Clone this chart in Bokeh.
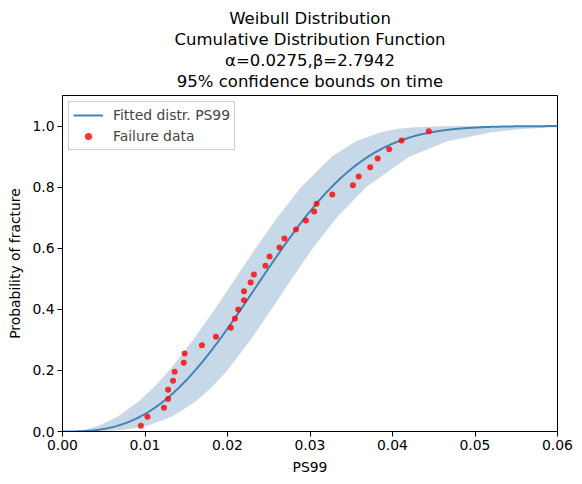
import numpy as np
from bokeh.plotting import figure
from bokeh.models import (Title, FixedTicker, PrintfTickFormatter, Range1d,
                          Legend, LegendItem)
from bokeh.embed import file_html
from bokeh.resources import INLINE

# Fitted Weibull parameters (scale, shape)
alpha = 0.0275
beta = 2.7942

# Failure data: PS99 value and median-rank probability
fail_x = [0.0095, 0.0103, 0.0123, 0.0128, 0.0128, 0.0134, 0.0136, 0.0147,
          0.0148, 0.0169, 0.0186, 0.0204, 0.0209, 0.0213, 0.0220, 0.0220,
          0.0228, 0.0232, 0.0246, 0.0251, 0.0263, 0.0269, 0.0283, 0.0295,
          0.0305, 0.0308, 0.0327, 0.0352, 0.0359, 0.0373, 0.0382, 0.0396,
          0.0411, 0.0444]
fail_y = [0.019, 0.048, 0.078, 0.106, 0.137, 0.166, 0.196, 0.225,
          0.255, 0.282, 0.310, 0.340, 0.370, 0.399, 0.430, 0.459,
          0.488, 0.514, 0.543, 0.573, 0.602, 0.632, 0.661, 0.691,
          0.720, 0.746, 0.776, 0.806, 0.835, 0.865, 0.894, 0.924,
          0.953, 0.983]

# 95% confidence bounds on time at given probabilities
band_p = [0.0, 0.0001, 0.001, 0.005, 0.01, 0.02, 0.05, 0.1, 0.15, 0.2,
          0.3, 0.4, 0.5, 0.6, 0.7, 0.8, 0.9, 0.95, 0.98, 0.99, 0.995,
          0.999, 0.9999]
band_lo = [0.0, 0.00041, 0.00115, 0.00239, 0.00326, 0.00445, 0.00676,
           0.00931, 0.01126, 0.01295, 0.01585, 0.01846, 0.02094, 0.02341,
           0.02600, 0.02891, 0.03266, 0.03555, 0.03860, 0.04053, 0.04224,
           0.04561, 0.04948]
band_hi = [0.0, 0.00253, 0.00466, 0.00716, 0.00862, 0.01038, 0.01335,
           0.01623, 0.01828, 0.01997, 0.02280, 0.02533, 0.02779, 0.03034,
           0.03322, 0.03678, 0.04205, 0.04666, 0.05202, 0.05568, 0.05907,
           0.06613, 0.07488]

x_ticks = [0.0, 0.01, 0.02, 0.03, 0.04, 0.05, 0.06]
y_ticks = [0.0, 0.2, 0.4, 0.6, 0.8, 1.0]

title_lines = ["Weibull Distribution",
               "Cumulative Distribution Function",
               "\u03b1=0.0275,\u03b2=2.7942",
               "95% confidence bounds on time"]

FONT = "DejaVu Sans"

t = np.linspace(0, 0.06, 500)
cdf = 1 - np.exp(-(t / alpha) ** beta)

p = figure(width=582, height=484, output_backend="svg", toolbar_location=None,
           x_range=Range1d(0, 0.06), y_range=Range1d(0, 1.1),
           min_border_left=62, min_border_right=25, min_border_top=95,
           min_border_bottom=53, background_fill_color="white",
           border_fill_color="white")
p.title = None

# small gap between the frame and the title block
p.add_layout(Title(text=" ", text_font_size="1px", standoff=2), "above")
# stack the title lines above the frame, bottom line first
for line in reversed(title_lines):
    ttl = Title(text=line, align="center", text_font=FONT,
                text_font_size="16.5px", text_font_style="normal",
                text_color="black", standoff=0)
    p.add_layout(ttl, "above")

p.grid.visible = False
p.outline_line_color = "black"
p.outline_line_alpha = 1
p.outline_line_width = 1

band = p.harea(x1=band_lo, x2=band_hi, y=band_p, fill_color="steelblue",
               fill_alpha=0.3)
fit = p.line(t, cdf, line_color="steelblue", line_width=2)
pts = p.scatter(fail_x, fail_y, size=6, fill_color="red", fill_alpha=0.8,
                line_color=None)

for ax in (p.xaxis[0], p.yaxis[0]):
    ax.axis_line_color = "black"
    ax.major_tick_line_color = "black"
    ax.major_tick_out = 5
    ax.major_tick_in = 0
    ax.minor_tick_line_color = None
    ax.major_label_text_font = FONT
    ax.major_label_text_font_size = "13.9px"
    ax.major_label_text_color = "black"
    ax.major_label_standoff = 3
    ax.axis_label_text_font = FONT
    ax.axis_label_text_font_size = "13.9px"
    ax.axis_label_text_font_style = "normal"
    ax.axis_label_text_color = "black"
    ax.axis_label_standoff = 6

p.xaxis.ticker = FixedTicker(ticks=x_ticks)
p.yaxis.ticker = FixedTicker(ticks=y_ticks)
p.xaxis.formatter = PrintfTickFormatter(format="%.2f")
p.yaxis.formatter = PrintfTickFormatter(format="%.1f")
p.xaxis.axis_label = "PS99"
p.yaxis.axis_label = "Probability of fracture"

legend = Legend(items=[LegendItem(label="Fitted distr. PS99", renderers=[fit]),
                       LegendItem(label="Failure data", renderers=[pts])],
                location="top_left", margin=6, padding=4, spacing=3,
                glyph_width=30, glyph_height=18, label_height=18,
                label_standoff=10, label_text_font=FONT,
                label_text_font_size="13.9px", border_line_color="#cccccc",
                border_line_alpha=1, background_fill_alpha=0.8)
p.add_layout(legend)

open("out.html", "w").write(file_html(p, INLINE))
